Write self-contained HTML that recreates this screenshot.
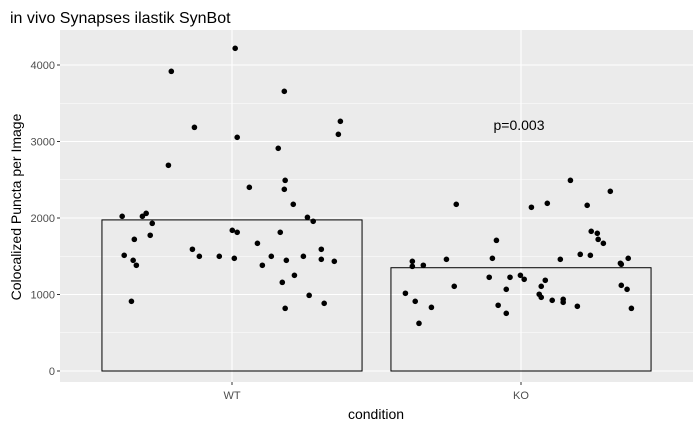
<!DOCTYPE html>
<html><head><meta charset="utf-8"><style>
body{margin:0;background:#fff;font-family:"Liberation Sans",Arial,sans-serif}
</style></head><body>
<svg id="chart" width="700" height="432" xmlns="http://www.w3.org/2000/svg" font-family="Liberation Sans, Arial, sans-serif">
<text x="10" y="23" font-size="16" fill="#000">in vivo Synapses ilastik SynBot</text>
<rect x="60" y="30" width="633" height="352" fill="#ebebeb"/>
<g id="grid"></g><g id="bars"></g><g id="points"></g><g id="axes"></g>
<text x="519" y="130" font-size="14" text-anchor="middle" fill="#000">p=0.003</text>
<text x="376" y="419" font-size="14" text-anchor="middle">condition</text>
<text transform="translate(21,207) rotate(-90)" font-size="14" text-anchor="middle">Colocalized Puncta per Image</text>
</svg>
<script>
const categories=["WT","KO"];
const means=[1975,1350];
const yTicks=[0,1000,2000,3000,4000];
const wtY=[4218,3917,3656,3264,3094,3185,3055,2911,2689,2492,2401,2375,2179,2022,2022,2061,2009,1957,1930,1839,1813,1813,1721,1774,1669,1591,1591,1512,1499,1499,1499,1499,1473,1447,1447,1460,1434,1382,1382,1251,1159,989,911,885,819];
const wtJ=[0.011,-0.210,0.181,0.375,0.368,-0.130,0.018,0.160,-0.220,0.184,0.060,0.181,0.212,-0.380,-0.310,-0.297,0.261,0.281,-0.276,0.001,0.018,0.167,-0.338,-0.283,0.088,-0.137,0.309,-0.373,-0.113,-0.044,0.136,0.247,0.008,-0.342,0.188,0.309,0.354,-0.331,0.105,0.216,0.174,0.267,-0.348,0.319,0.184];
const koY=[2492,2349,2179,2192,2140,2166,1826,1800,1721,1669,1708,1525,1512,1434,1368,1382,1460,1473,1460,1408,1395,1473,1251,1199,1225,1225,1186,1107,1107,1068,1120,1068,1016,1003,963,911,832,859,924,937,898,846,819,754,623];
const koJ=[0.171,0.309,-0.224,0.091,0.036,0.229,0.243,0.264,0.267,0.285,-0.085,0.205,0.240,-0.376,-0.376,-0.338,-0.258,-0.099,0.136,0.344,0.347,0.371,-0.002,0.011,-0.110,-0.038,0.084,-0.231,0.070,-0.051,0.347,0.367,-0.400,0.063,0.070,-0.366,-0.310,-0.079,0.108,0.146,0.146,0.195,0.382,-0.051,-0.353];
const NS="http://www.w3.org/2000/svg";
const x=v=>232+v*289;
const y=v=>371-v*0.0765;
function mk(t,a,p){const e=document.createElementNS(NS,t);for(const k in a)e.setAttribute(k,a[k]);p.appendChild(e);return e;}
const grid=document.getElementById('grid'),bars=document.getElementById('bars'),pts=document.getElementById('points'),axes=document.getElementById('axes');
for(let v=500;v<=4000;v+=1000){const l=mk('line',{x1:60,x2:693,y1:y(v),y2:y(v),stroke:'#fff','stroke-width':0.5},grid);

}
yTicks.forEach(v=>{const l=mk('line',{x1:60,x2:693,y1:y(v),y2:y(v),stroke:'#fff','stroke-width':1.1},grid);


const t=mk('text',{x:55,y:y(v)+4,'font-size':11,'text-anchor':'end',fill:'#4d4d4d'},axes);t.textContent=v;


const tk=mk('line',{x1:57,x2:60,y1:y(v),y2:y(v),stroke:'#333'},axes);

});
categories.forEach((c,i)=>{const l=mk('line',{x1:x(i),x2:x(i),y1:30,y2:382,stroke:'#fff','stroke-width':1.1},grid);


const b=mk('rect',{x:x(i-0.45),y:y(means[i]),width:x(0.45)-x(-0.45),height:y(0)-y(means[i]),fill:'none',stroke:'#000','stroke-width':1},bars);


const t=mk('text',{x:x(i),y:399,'font-size':11,'text-anchor':'middle',fill:'#4d4d4d'},axes);t.textContent=c;


const tk=mk('line',{x1:x(i),x2:x(i),y1:382,y2:385,stroke:'#333'},axes);

});
[[wtY,wtJ,0],[koY,koJ,1]].forEach(([ys,js,i])=>ys.forEach((v,k)=>{const p=mk('circle',{cx:x(i+js[k]),cy:y(v),r:2.8,fill:'#000'},pts);

}));
</script>
</body></html>
